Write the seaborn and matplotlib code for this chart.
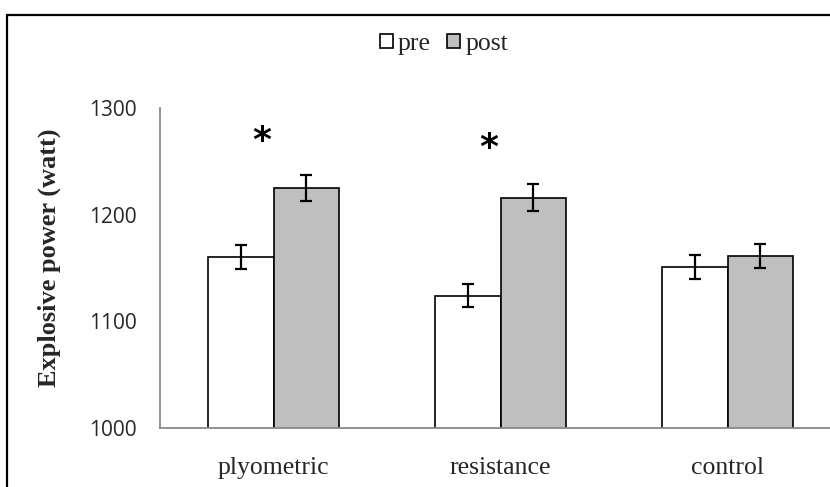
import matplotlib
matplotlib.use("Agg")
import matplotlib.pyplot as plt
import seaborn as sns
import pandas as pd
from matplotlib.patches import Rectangle

groups = ["plyometric", "resistance", "control"]
phases = ["pre", "post"]
pre_values = [1160, 1124, 1151]
post_values = [1225, 1216, 1161]
pre_errors = [11, 11, 11]
post_errors = [12, 13, 11]
yticks = [1000, 1100, 1200, 1300]
star_groups = ["plyometric", "resistance"]
star_values = [1276, 1269]
ylabel = "Explosive power (watt)"

df = pd.DataFrame({
    "group": groups * 2,
    "phase": ["pre"] * len(groups) + ["post"] * len(groups),
    "value": pre_values + post_values,
})
errs = {"pre": pre_errors, "post": post_errors}

sns.set_style("white")
plt.rcParams["font.family"] = ["Liberation Serif", "DejaVu Serif"]

W, H = 830, 487
fig = plt.figure(figsize=(W / 100, H / 100), dpi=100)
ax = fig.add_axes([160 / W, 59.3 / H, 681 / W, 319.7 / H])

sns.barplot(data=df, x="group", y="value", hue="phase", order=groups,
            hue_order=phases, palette={"pre": "white", "post": "#BFBFBF"},
            edgecolor="black", linewidth=1.2, width=0.58, errorbar=None,
            ax=ax)

for cont, ph in zip(ax.containers, phases):
    for patch, e in zip(cont.patches, errs[ph]):
        xc = patch.get_x() + patch.get_width() / 2
        ax.errorbar(xc, patch.get_height(), yerr=e, fmt="none", ecolor="black",
                    elinewidth=1.6, capsize=4, capthick=1.6, zorder=5)

for g, v in zip(star_groups, star_values):
    ax.annotate("*", xy=(groups.index(g) - 0.05, v), ha="center",
                va="center_baseline", xytext=(0, -2.5),
                textcoords="offset points", fontsize=26, fontweight="bold",
                family="DejaVu Sans", color="black")

ax.set_ylim(yticks[0], yticks[-1])
ax.set_xlim(-0.5, len(groups) - 0.5)
ax.set_yticks(yticks)
ax.set_yticklabels([str(t) for t in yticks], family="Open Sans", fontsize=15)
ax.tick_params(axis="y", length=0, pad=17)
ax.set_xticks(range(len(groups)))
ax.set_xticklabels(groups, family="Liberation Serif", fontsize=18.5)
ax.tick_params(axis="x", which="major", length=0, pad=21)
ax.set_xticks([i - 0.5 for i in range(len(groups) + 1)], minor=True)
ax.tick_params(axis="x", which="minor", length=5, width=1.2, color="#898989",
               direction="out")
ax.set_xlabel("")
ax.set_ylabel("")
for s in ["top", "right"]:
    ax.spines[s].set_visible(False)
for s in ["left", "bottom"]:
    ax.spines[s].set_color("#898989")
    ax.spines[s].set_linewidth(1.3)

fig.text(49 / W, 1 - 257.5 / H, ylabel, rotation=90, ha="center", va="center",
         fontsize=19, fontweight="bold", family="Liberation Serif")

handles, labels = ax.get_legend_handles_labels()
ax.legend(handles, labels, loc="center", bbox_to_anchor=(444 / W, 1 - 44 / H),
          bbox_transform=fig.transFigure, ncol=2, frameon=False,
          prop={"family": "Liberation Serif", "size": 18.5},
          handlelength=0.5, handleheight=0.5, handletextpad=0.2,
          columnspacing=0.65, borderpad=0)

fig.patches.append(Rectangle((7 / W, -0.1), 1.2, 1.1 - 15 / H,
                             transform=fig.transFigure, fill=False,
                             edgecolor="black", linewidth=1.6))

fig.savefig("out.png", dpi=100)
